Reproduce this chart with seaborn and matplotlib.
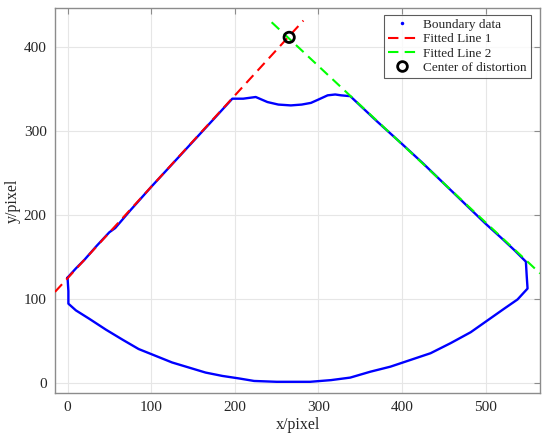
import numpy as np
import pandas as pd
import matplotlib
matplotlib.use('Agg')
import matplotlib.pyplot as plt
import seaborn as sns
from matplotlib.lines import Line2D

## Dados
# contorno do leque (pontos da borda)
borda_x = [0, 10, 20, 35, 50, 57, 75, 100, 125, 150, 175, 197,
           210, 225, 239, 252, 267, 280, 291, 300, 311, 320, 327, 338,
           370, 400, 425, 450, 475, 500, 520, 535, 548,
           549, 550,
           538, 522, 502, 482, 458, 434, 410, 386, 362, 338, 315, 290, 270, 250, 223,
           205, 185, 165, 145, 125, 105, 85, 66, 46, 26, 10, 1,
           1, 0]
borda_y = [126, 137, 147, 164, 180, 185, 206, 234, 261, 288, 315, 339,
           339, 341, 335, 332, 331, 332, 334, 338, 343, 344, 343, 342,
           312, 285, 262, 238, 214, 190, 172, 158, 145,
           128, 113,
           100, 89, 75, 61, 48, 36, 28, 20, 14, 7, 4, 2, 2, 2, 3,
           6, 9, 13, 19, 25, 33, 41, 52, 64, 77, 87, 95,
           110, 126]

# retas ajustadas
reta1_x = [-15, 282]
reta1_y = [109, 432]
reta2_x = [244, 565]
reta2_y = [430, 131]

# centro de distorção
centro_x = [265]
centro_y = [412]

xticks = [0, 100, 200, 300, 400, 500]
yticks = [0, 100, 200, 300, 400]

## Estilo
sns.set_style('whitegrid')
plt.rcParams['font.family'] = ['Liberation Serif', 'DejaVu Serif']

fig = plt.figure(figsize=(5.5, 4.42), dpi=100)
ax = fig.add_axes([0.1, 0.1115, 0.882, 0.8705])

df_borda = pd.DataFrame({'x': borda_x, 'y': borda_y})
sns.lineplot(data=df_borda, x='x', y='y', sort=False, estimator=None,
             color='#0000ff', lw=1.7, ax=ax, zorder=3)
sns.lineplot(x=reta1_x, y=reta1_y, color='#ff0000', lw=1.5, ax=ax, zorder=4)
ax.lines[-1].set_dashes([5, 3])
sns.lineplot(x=reta2_x, y=reta2_y, color='#00ff00', lw=1.5, ax=ax, zorder=4)
ax.lines[-1].set_dashes([5, 3])
sns.scatterplot(x=centro_x, y=centro_y, marker='o', s=55, facecolor='none',
                edgecolor='black', linewidth=2, ax=ax, zorder=5)

ax.set_xlim(-15, 565)
ax.set_ylim(-11, 447)
ax.set_xticks(xticks)
ax.set_yticks(yticks)
ax.grid(True, color='#e6e6e6', lw=0.8)
for s in ax.spines.values():
    s.set_color('#8c8c8c')
    s.set_linewidth(1.0)
ax.tick_params(direction='in', length=4, color='#8c8c8c', labelsize=11,
               labelcolor='#262626', top=True, right=True, pad=6)
ax.set_xlabel('x/pixel', fontsize=11.5, color='#262626', labelpad=2)
ax.set_ylabel('y/pixel', fontsize=11.5, color='#262626', labelpad=2)

handles = [
    Line2D([], [], color='#0000ff', marker='.', ms=3, ls='none'),
    Line2D([], [], color='#ff0000', ls=(0, (5, 3)), lw=1.5),
    Line2D([], [], color='#00ff00', ls=(0, (5, 3)), lw=1.5),
    Line2D([], [], color='black', marker='o', mfc='none', mew=2, ms=7, ls='none'),
]
labels = ['Boundary data', 'Fitted Line 1', 'Fitted Line 2', 'Center of distortion']
leg = ax.legend(handles, labels, loc='upper right', bbox_to_anchor=(0.981, 0.982),
                borderaxespad=0, fontsize=9.5, frameon=True, fancybox=False,
                handlelength=2.2, handletextpad=0.5, labelspacing=0.15,
                borderpad=0.3)
leg.get_frame().set_edgecolor('#333333')
leg.get_frame().set_linewidth(0.8)

fig.savefig('out.png', dpi=100)
